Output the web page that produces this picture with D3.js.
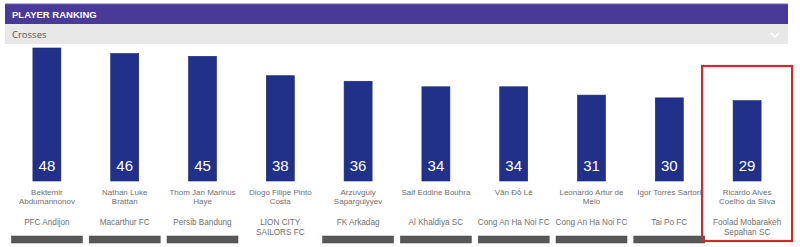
<!DOCTYPE html>
<html><head><meta charset="utf-8">
<script src="https://cdnjs.cloudflare.com/ajax/libs/d3/7.8.5/d3.min.js"></script>
<style>html,body{margin:0;padding:0;background:#fff;overflow:hidden}svg{display:block}</style>
</head><body>
<script>
const title = "PLAYER RANKING";
const metric = "Crosses";
const players = ["Bektemir\nAbdumannonov","Nathan Luke\nBrattan","Thom Jan Marinus\nHaye","Diogo Filipe Pinto\nCosta","Arzuvguly\nSapargulyyev","Saif Eddine Bouhra","Văn Đỗ Lê","Leonardo Artur de\nMelo","Igor Torres Sartori","Ricardo Alves\nCoelho da Silva"];
const teams = ["PFC Andijon","Macarthur FC","Persib Bandung","LION CITY\nSAILORS FC","FK Arkadag","Al Khaldiya SC","Cong An Ha Noi FC","Cong An Ha Noi FC","Tai Po FC","Foolad Mobarakeh\nSepahan SC"];
const values = [48,46,45,38,36,34,34,31,30,29];
const highlighted = [9];

const W = 800, H = 247;
const svg = d3.select("body").append("svg").attr("width", W).attr("height", H);

// header
svg.append("rect").attr("x",5).attr("y",4).attr("width",783).attr("height",20).attr("fill","#4a3a97");
svg.append("rect").attr("x",5).attr("y",3.5).attr("width",783).attr("height",1).attr("fill","#6f63b5");
svg.append("text").attr("x",12).attr("y",17.5).text(title)
  .attr("font-family","Liberation Sans, Arial, sans-serif").attr("font-weight","bold")
  .attr("font-size",9.5).attr("fill","#fff");
svg.append("rect").attr("x",5).attr("y",24).attr("width",783).attr("height",20).attr("fill","#e8e8e8");
svg.append("text").attr("x",12).attr("y",38).text(metric)
  .attr("font-family","Open Sans, Liberation Sans, sans-serif")
  .attr("font-size",9.5).attr("fill","#555");
svg.append("path").attr("d","M771,33 L775,37 L779,33").attr("fill","none").attr("stroke","#fff").attr("stroke-width",1.5);

const x = d3.scaleBand().domain(d3.range(values.length)).range([8,786]).padding(0);
const y = d3.scaleLinear().domain([0, d3.max(values)]).range([181, 48]);
const bw = 28;

const g = svg.append("g");
const col = g.selectAll("g.col").data(values.map((v,i)=>({v,i,p:players[i],t:teams[i]})))
  .enter().append("g").attr("class","col");

col.append("rect")
  .attr("x", d => x(d.i) + x.bandwidth()/2 - bw/2)
  .attr("y", d => y(d.v))
  .attr("width", bw).attr("height", d => y(0) - y(d.v))
  .attr("fill","#213088").attr("stroke","#1a2670").attr("stroke-width",0.6);

col.append("text")
  .attr("x", d => x(d.i) + x.bandwidth()/2).attr("y", 170.5)
  .attr("text-anchor","middle").attr("fill","#fff")
  .attr("font-family","Liberation Sans, Arial, sans-serif").attr("font-size",15)
  .text(d => d.v);

const font = "Liberation Sans, Arial, sans-serif";
col.each(function(d){
  const sel = d3.select(this);
  const cx = x(d.i) + x.bandwidth()/2;
  d.p.split("\n").forEach((ln,k)=>{
    sel.append("text").attr("x",cx).attr("y",194.5 + k*9.5).attr("text-anchor","middle")
      .attr("font-family",font).attr("font-size",8).attr("fill","#707070").text(ln);
  });
  const tl = d.t.split("\n");
  tl.forEach((ln,k)=>{
    sel.append("text").attr("x",cx).attr("y",225 + k*9.5).attr("text-anchor","middle")
      .attr("font-family",font).attr("font-size",8.2).attr("fill","#707070").text(ln);
  });
  const by = 236 + (tl.length-1)*20;
  sel.append("rect").attr("x",cx-35.5).attr("y",by).attr("width",71).attr("height",7)
    .attr("fill","#585858").attr("stroke","#444").attr("stroke-width",0.5);
});

highlighted.forEach(i=>{
  const cx = x(i) + x.bandwidth()/2;
  svg.append("rect").attr("x",cx-45).attr("y",66).attr("width",90).attr("height",175)
    .attr("fill","none").attr("stroke","#cf2a30").attr("stroke-width",2.2);
});
</script>
</body></html>
